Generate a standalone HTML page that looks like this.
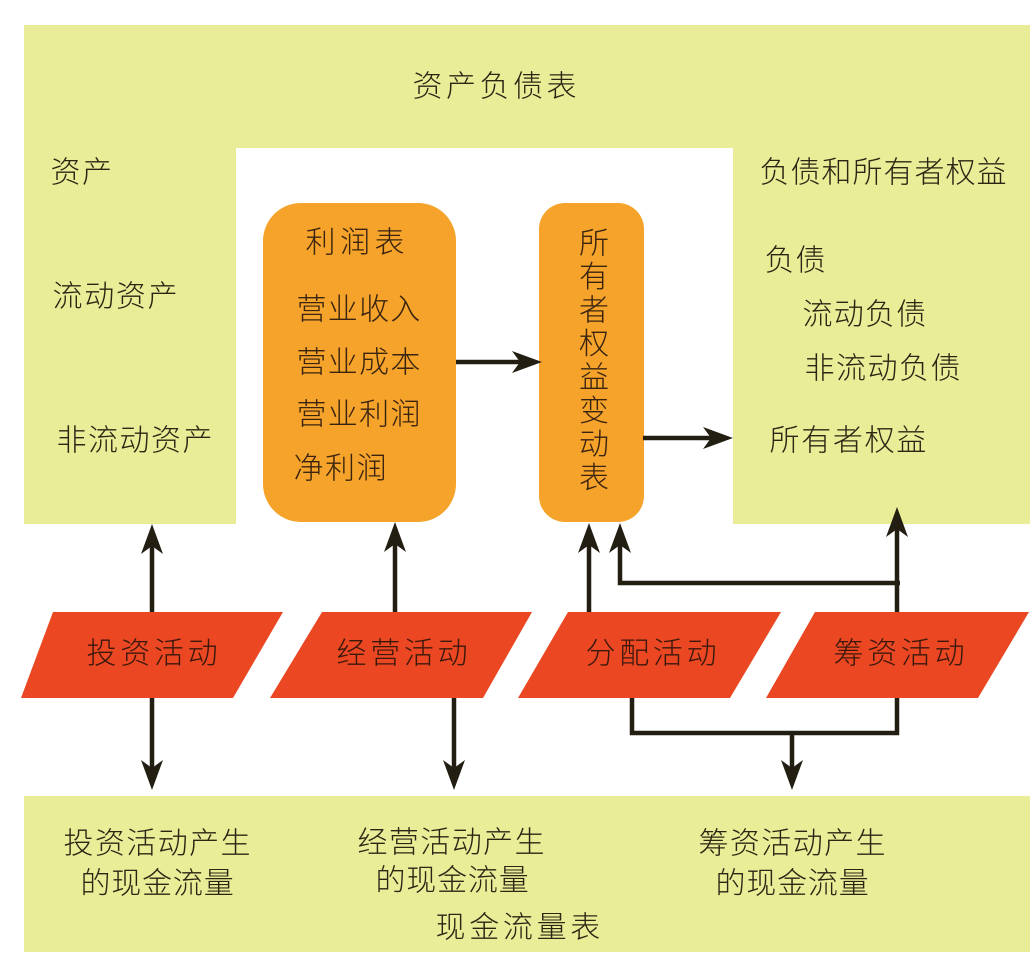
<!DOCTYPE html>
<html><head><meta charset="utf-8"><style>
html,body{margin:0;padding:0;background:#fff;}
svg{display:block;}
text{font-family:"Liberation Sans","Noto Sans CJK SC",sans-serif;font-size:30px;font-weight:300;fill:#2b2614;dominant-baseline:central;}
</style></head><body>
<svg width="1030" height="966" viewBox="0 0 1030 966" xmlns="http://www.w3.org/2000/svg">
<!-- balance sheet -->
<path d="M24 25 H1030 V524 H733 V148 H236 V524 H24 Z" fill="#e9ed98"/>
<!-- cash flow -->
<rect x="24" y="796" width="1006" height="156" fill="#e9ed98"/>
<!-- orange boxes -->
<rect x="263" y="203" width="193" height="319" rx="38" ry="38" fill="#f5a32a"/>
<rect x="539" y="203" width="105" height="319" rx="26" ry="26" fill="#f5a32a"/>
<!-- parallelograms -->
<polygon points="53,612 283,612 233,698 21,698" fill="#ea4722"/>
<polygon points="322,612 532,612 483,698 270,698" fill="#ea4722"/>
<polygon points="568,612 781,612 730,698 518,698" fill="#ea4722"/>
<polygon points="815,612 1029,612 978,698 766,698" fill="#ea4722"/>

<!-- connectors -->
<g stroke="#221e12" stroke-width="4.5" fill="none" stroke-linecap="butt">
<line x1="152" y1="612" x2="152" y2="545"/>
<line x1="152" y1="698" x2="152" y2="770"/>
<line x1="395" y1="612" x2="395" y2="543"/>
<line x1="454" y1="698" x2="454" y2="770"/>
<line x1="589" y1="612" x2="589" y2="544"/>
<polyline points="620,544 620,583 900,583"/>
<line x1="897" y1="612" x2="897" y2="528"/>
<polyline points="632,698 632,733 897,733 897,698"/>
<line x1="792" y1="733" x2="792" y2="770"/>
<line x1="456" y1="362" x2="522" y2="362"/>
<line x1="643" y1="438" x2="712" y2="438"/>
</g>
<g fill="#221e12">
<!-- up heads -->
<polygon points="152,524 163,554 152,546 141,554"/>
<polygon points="395,522 406,552 395,544 384,552"/>
<polygon points="589,523 600,553 589,545 578,553"/>
<polygon points="620,523 631,553 620,545 609,553"/>
<polygon points="897,507 908,537 897,529 886,537"/>
<!-- down heads -->
<polygon points="152,790 163,760 152,768 141,760"/>
<polygon points="454,790 465,760 454,768 443,760"/>
<polygon points="792,790 803,760 792,768 781,760"/>
<!-- right heads -->
<polygon points="542,362 512,351 520,362 512,373"/>
<polygon points="733,438 703,427 711,438 703,449"/>
</g>

<!-- balance sheet texts -->
<text x="412.5" y="87" letter-spacing="3.5">资产负债表</text>
<text x="50.5" y="173" letter-spacing="1.5">资产</text>
<text x="52.5" y="297" letter-spacing="1.7">流动资产</text>
<text x="56.5" y="441" letter-spacing="1.5">非流动资产</text>
<text x="759.5" y="173" letter-spacing="1">负债和所有者权益</text>
<text x="764.5" y="261" letter-spacing="1">负债</text>
<text x="802.5" y="315" letter-spacing="1.2">流动负债</text>
<text x="804.5" y="369" letter-spacing="1.5">非流动负债</text>
<text x="769.5" y="441" letter-spacing="1.7">所有者权益</text>

<!-- income statement -->
<text x="305.5" y="243" letter-spacing="4.5" style="fill:#3a2410">利润表</text>
<text x="296.5" y="310" letter-spacing="1.3" style="fill:#3a2410">营业收入</text>
<text x="296.5" y="363" letter-spacing="1.3" style="fill:#3a2410">营业成本</text>
<text x="296.5" y="415" letter-spacing="1.3" style="fill:#3a2410">营业利润</text>
<text x="293.5" y="469" letter-spacing="1.5" style="fill:#3a2410">净利润</text>
<!-- vertical text -->
<g text-anchor="middle">
<text x="594" y="244" style="fill:#3a2410">所</text>
<text x="594" y="277.5" style="fill:#3a2410">有</text>
<text x="594" y="311" style="fill:#3a2410">者</text>
<text x="594" y="344.5" style="fill:#3a2410">权</text>
<text x="594" y="378" style="fill:#3a2410">益</text>
<text x="594" y="411.5" style="fill:#3a2410">变</text>
<text x="594" y="445" style="fill:#3a2410">动</text>
<text x="594" y="478.5" style="fill:#3a2410">表</text>
</g>

<!-- activities -->
<text x="86.5" y="654" letter-spacing="3.7" style="fill:#3a180c">投资活动</text>
<text x="336.5" y="654" letter-spacing="3.7" style="fill:#3a180c">经营活动</text>
<text x="585.5" y="654" letter-spacing="3.7" style="fill:#3a180c">分配活动</text>
<text x="833.5" y="654" letter-spacing="3.7" style="fill:#3a180c">筹资活动</text>

<!-- cash flow texts -->
<text x="63.5" y="844" letter-spacing="1.4">投资活动产生</text>
<text x="80.5" y="884" letter-spacing="0.8">的现金流量</text>
<text x="357.5" y="843" letter-spacing="1.4">经营活动产生</text>
<text x="375.5" y="881" letter-spacing="0.8">的现金流量</text>
<text x="698.5" y="844" letter-spacing="1.4">筹资活动产生</text>
<text x="715.5" y="884" letter-spacing="0.8">的现金流量</text>
<text x="435.5" y="928" letter-spacing="3.7">现金流量表</text>
</svg>
</body></html>
